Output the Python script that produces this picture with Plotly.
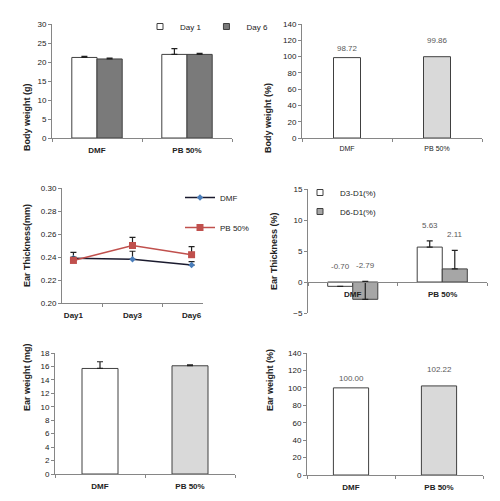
import plotly.graph_objects as go

# ---------------- data ----------------
groups = ["DMF", "PB 50%"]

bw_day1 = [21.2, 22.0]
bw_day1_err = [0.3, 1.5]
bw_day6 = [20.8, 22.0]
bw_day6_err = [0.2, 0.3]

bw_pct = [98.72, 99.86]

days = ["Day1", "Day3", "Day6"]
et_dmf = [0.239, 0.238, 0.233]
et_dmf_err = [0.005, 0.007, 0.003]
et_pb = [0.237, 0.250, 0.242]
et_pb_err = [0.003, 0.007, 0.007]

et_d3 = [-0.70, 5.63]
et_d3_err = [0.0, 1.0]
et_d6 = [-2.79, 2.11]
et_d6_err = [2.9, 3.0]

ew = [15.7, 16.1]
ew_err = [1.0, 0.15]

ew_pct = [100.00, 102.22]

# ---------------- style ----------------
FONT = "Liberation Sans"
AX = "#868686"
EDGE = "#404040"
OFF = 8                      # default page margin of the html body
W, H = 500 - OFF, 501 - OFF
C_D1 = "white"
C_D6 = "#7a7a7a"
C_D6P = "#a6a6a6"
LABEL_SHIFT = [3, 10]        # label lift above the bars in the % panels


def px(x):
    return (x - OFF) / W


def py(y):
    return 1 - (y - OFF) / H


fig = go.Figure()

err_style = dict(type="data", symmetric=False, color="#222222", thickness=1.2, width=3)


def proxy(name, color, xa, ya, leg):
    return go.Scatter(x=[None], y=[None], name=name, mode="markers",
                      marker=dict(symbol="square", size=6, color=color,
                                  line=dict(color=EDGE, width=1)),
                      xaxis=xa, yaxis=ya, legend=leg, legendgroup=name)


# Panel 1: body weight
fig.add_trace(go.Bar(x=groups, y=bw_day1, name="Day 1", width=0.28, offset=-0.28,
                     marker=dict(color=C_D1, line=dict(color=EDGE, width=1)),
                     error_y=dict(array=bw_day1_err, arrayminus=[0] * 2, **err_style),
                     showlegend=False, xaxis="x", yaxis="y"))
fig.add_trace(go.Bar(x=groups, y=bw_day6, name="Day 6", width=0.28, offset=0,
                     marker=dict(color=C_D6, line=dict(color=EDGE, width=1)),
                     error_y=dict(array=bw_day6_err, arrayminus=[0] * 2, **err_style),
                     showlegend=False, xaxis="x", yaxis="y"))
fig.add_trace(proxy("Day 1", C_D1, "x", "y", "legend"))
fig.add_trace(proxy("Day 6", C_D6, "x", "y", "legend"))

# Panel 2: body weight %
fig.add_trace(go.Bar(x=groups, y=bw_pct, width=0.3, offset=-0.15,
                     marker=dict(color=["white", "#d9d9d9"], line=dict(color=EDGE, width=1)),
                     showlegend=False, xaxis="x2", yaxis="y2"))

# Panel 3: ear thickness lines
fig.add_trace(go.Scatter(x=days, y=et_dmf, name="DMF", mode="lines+markers",
                         line=dict(color="#1a1a2e", width=1.5),
                         marker=dict(symbol="diamond", size=5, color="#4a7ebb"),
                         error_y=dict(array=et_dmf_err, arrayminus=[0] * 3, **err_style),
                         xaxis="x3", yaxis="y3", legend="legend2", legendgroup="a"))
fig.add_trace(go.Scatter(x=days, y=et_pb, name="PB 50%", mode="lines+markers",
                         line=dict(color="#c0504d", width=1.5),
                         marker=dict(symbol="square", size=7, color="#c0504d"),
                         error_y=dict(array=et_pb_err, arrayminus=[0] * 3, **err_style),
                         xaxis="x3", yaxis="y3", legend="legend2", legendgroup="b"))

# Panel 4: ear thickness %
fig.add_trace(go.Bar(x=groups, y=et_d3, name="D3-D1(%)", width=0.28, offset=-0.28,
                     marker=dict(color=C_D1, line=dict(color=EDGE, width=1)),
                     error_y=dict(array=et_d3_err, arrayminus=[0] * 2, **err_style),
                     showlegend=False, xaxis="x4", yaxis="y4"))
fig.add_trace(go.Bar(x=groups, y=et_d6, name="D6-D1(%)", width=0.28, offset=0,
                     marker=dict(color=C_D6P, line=dict(color=EDGE, width=1)),
                     error_y=dict(array=et_d6_err, arrayminus=[0] * 2, **err_style),
                     showlegend=False, xaxis="x4", yaxis="y4"))
fig.add_trace(proxy("D3-D1(%)", C_D1, "x4", "y4", "legend3"))
fig.add_trace(proxy("D6-D1(%)", C_D6P, "x4", "y4", "legend3"))

# Panel 5: ear weight
fig.add_trace(go.Bar(x=groups, y=ew, width=0.4, offset=-0.2,
                     marker=dict(color=["white", "#d9d9d9"], line=dict(color=EDGE, width=1)),
                     error_y=dict(array=ew_err, arrayminus=[0] * 2, **err_style),
                     showlegend=False, xaxis="x5", yaxis="y5"))

# Panel 6: ear weight %
fig.add_trace(go.Bar(x=groups, y=ew_pct, width=0.4, offset=-0.2,
                     marker=dict(color=["white", "#d9d9d9"], line=dict(color=EDGE, width=1)),
                     showlegend=False, xaxis="x6", yaxis="y6"))


# ---------------- axes ----------------
def xa(dom, anchor, small=False, **kw):
    d = dict(domain=[px(dom[0]), px(dom[1])], anchor=anchor, showline=True, linecolor=AX,
             linewidth=1, ticks="outside", tickson="boundaries", ticklen=3, tickcolor=AX,
             showgrid=False, zeroline=False, fixedrange=True, layer="above traces",
             automargin=False, ticklabelstandoff=4,
             tickfont=dict(size=7 if small else 8, color="#222222", family=FONT))
    d.update(kw)
    return d


def ya(dom, anchor, rng, dtick, fmt="", **kw):
    d = dict(domain=[py(dom[1]), py(dom[0])], anchor=anchor, range=rng, dtick=dtick,
             showline=True, linecolor=AX, linewidth=1, ticks="outside", ticklen=3,
             tickcolor=AX, showgrid=False, zeroline=False, tickformat=fmt,
             automargin=False, fixedrange=True, tickfont=dict(size=8, color="#222222"))
    d.update(kw)
    return d


bold_groups = ["<b>DMF</b>", "<b>PB 50%</b>"]

leg_common = dict(bgcolor="rgba(0,0,0,0)", font=dict(size=8, color="#222222"),
                  itemwidth=30, xanchor="left", yanchor="top")

layout = dict(
    width=W, height=H, margin=dict(l=0, r=0, t=0, b=0),
    paper_bgcolor="white", plot_bgcolor="white",
    font=dict(family=FONT, size=8, color="#222222"),
    showlegend=True,
    xaxis=xa((52, 232), "y", tickvals=groups, ticktext=bold_groups),
    yaxis=ya((24, 138), "x", [0, 30], 5),
    xaxis2=xa((302, 482), "y2", small=True),
    yaxis2=ya((24, 138), "x2", [0, 140], 20),
    xaxis3=xa((62, 203), "y3", tickvals=days, ticktext=["<b>%s</b>" % d for d in days]),
    yaxis3=ya((188, 303), "x3", [0.20, 0.30], 0.02, ".2f"),
    xaxis4=xa((308, 487), "free", position=py(282), showticklabels=False),
    yaxis4=ya((189, 313), "x4", [-5, 15], 5),
    xaxis5=xa((55, 235), "y5", tickvals=groups, ticktext=bold_groups),
    yaxis5=ya((353, 474), "x5", [0, 18], 2),
    xaxis6=xa((307, 483), "y6", tickvals=groups, ticktext=bold_groups),
    yaxis6=ya((353, 475), "x6", [0, 140], 20),
    legend=dict(x=px(140), y=py(12), orientation="h", traceorder="normal", **leg_common),
    legend2=dict(x=px(180), y=py(183), tracegroupgap=11, **leg_common),
    legend3=dict(x=px(300), y=py(178), tracegroupgap=0, **leg_common),
)
fig.update_layout(**layout)

# ---------------- annotations ----------------
titles = [
    ("Body weight (g)", 20, 81),
    ("Body weight (%)", 268, 81),
    ("Ear Thickness(mm)", 20, 246),
    ("Ear Thickness (%)", 274, 251),
    ("Ear weight (mg)", 20, 413),
    ("Ear weight (%)", 270, 413),
]
for t, x, y in titles:
    fig.add_annotation(text="<b>%s</b>" % t, x=px(x), y=py(y), xref="paper", yref="paper",
                       textangle=-90, showarrow=False, font=dict(size=9, color="#222222"))

# value labels of the % panels
for vals, xr, yr in ((bw_pct, "x2", "y2"), (ew_pct, "x6", "y6")):
    for i, g in enumerate(groups):
        fig.add_annotation(text="%.2f" % vals[i], x=g, y=vals[i], xref=xr, yref=yr,
                           yanchor="bottom", yshift=LABEL_SHIFT[i], showarrow=False,
                           font=dict(size=8, color="#595959"))

# category labels of panel 4 sit on the zero line, above the bars
for i, g in enumerate(groups):
    fig.add_annotation(text="<b>%s</b>" % g, x=g, y=0, xref="x4", yref="y4",
                       yanchor="top", yshift=-6, showarrow=False,
                       font=dict(size=8, color="#222222"))

# data labels for panel 4
offs = [-0.14, 0.14]
for i, g in enumerate(groups):
    for vals, errs, off in ((et_d3, et_d3_err, offs[0]), (et_d6, et_d6_err, offs[1])):
        top = max(vals[i] + errs[i], 0)
        fig.add_annotation(text="%.2f" % vals[i], x=i + off, y=top, xref="x4", yref="y4",
                           yanchor="bottom", yshift=9, showarrow=False,
                           font=dict(size=8, color="#595959"))

fig.write_html("out.html")
